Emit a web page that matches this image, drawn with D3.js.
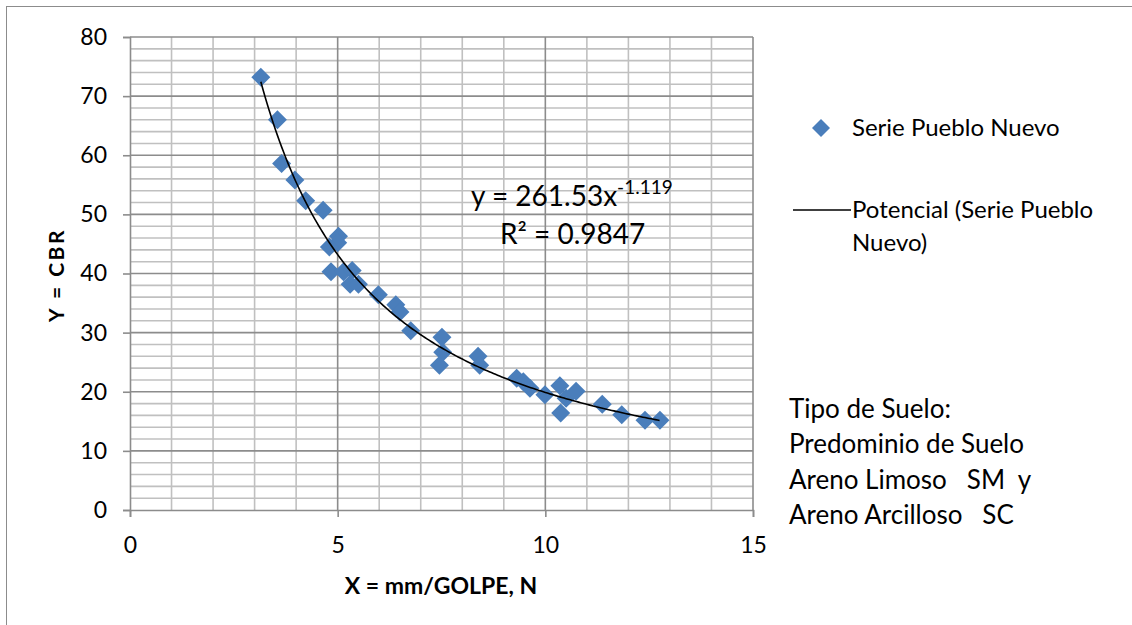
<!DOCTYPE html>
<html>
<head>
<meta charset="utf-8">
<script src="https://cdn.jsdelivr.net/npm/d3@7"></script>
<style>
  body { margin: 0; background: #fff; }
  svg text { font-family: Lato, "Liberation Sans", sans-serif; fill: #000; white-space: pre; }
</style>
</head>
<body>
<div id="chart"></div>
<script>
// data
const xVals = [3.15, 3.55, 3.65, 3.97, 4.23, 4.65, 5.02, 5.0, 4.8, 4.84, 5.14, 5.35, 5.30, 5.50, 5.98,
               6.40, 6.50, 6.76, 7.51, 7.53, 7.45, 8.38, 8.42, 9.31, 9.47, 9.63, 9.99, 10.35, 10.5,
               10.74, 10.37, 11.37, 11.84, 12.40, 12.76];
const yVals = [73.2, 66.0, 58.6, 55.8, 52.3, 50.7, 46.3, 45.2, 44.5, 40.3, 40.3, 40.5, 38.2, 38.2, 36.4,
               34.7, 33.5, 30.3, 29.2, 26.7, 24.5, 26.0, 24.5, 22.3, 21.7, 20.6, 19.5, 21.0, 18.9,
               20.1, 16.4, 17.9, 16.1, 15.2, 15.2];
const xTicks = [0, 5, 10, 15];
const yTicks = [0, 10, 20, 30, 40, 50, 60, 70, 80];
const fitA = 261.53, fitB = -1.119;
const noteLines = ['Tipo de Suelo:', 'Predominio de Suelo', 'Areno Limoso   SM  y', 'Areno Arcilloso   SC'];

const width = 1132, height = 625;
const margin = {t: 37, l: 130};
const plotW = 623, plotH = 473;

const svg = d3.select('#chart').append('svg')
    .attr('width', width).attr('height', height);

// outer frame
svg.append('rect')
    .attr('x', 6.5).attr('y', 6.5).attr('width', 1140).attr('height', 640)
    .attr('fill', 'none').attr('stroke', '#8c8c8c').attr('stroke-width', 1);

const x = d3.scaleLinear().domain([0, 15]).range([0, plotW]);
const y = d3.scaleLinear().domain([0, 80]).range([plotH, 0]);

const g = svg.append('g').attr('transform', `translate(${margin.l},${margin.t})`);

// minor grid
g.append('g').selectAll('line')
    .data(d3.range(1, 16).filter(d => d % 5 !== 0))
    .enter().append('line')
    .attr('x1', d => x(d)).attr('x2', d => x(d))
    .attr('y1', 0).attr('y2', plotH)
    .attr('stroke', '#c0c0c0').attr('stroke-width', 1.6);
g.append('g').selectAll('line')
    .data(d3.range(2, 80, 2).filter(d => d % 10 !== 0))
    .enter().append('line')
    .attr('x1', 0).attr('x2', plotW)
    .attr('y1', d => y(d)).attr('y2', d => y(d))
    .attr('stroke', '#c0c0c0').attr('stroke-width', 1.6);

// major grid
g.append('g').selectAll('line')
    .data(xTicks.slice(1))
    .enter().append('line')
    .attr('x1', d => x(d)).attr('x2', d => x(d))
    .attr('y1', 0).attr('y2', plotH)
    .attr('stroke', '#8c8c8c').attr('stroke-width', 1.6);
g.append('g').selectAll('line')
    .data(yTicks.slice(1))
    .enter().append('line')
    .attr('x1', 0).attr('x2', plotW)
    .attr('y1', d => y(d)).attr('y2', d => y(d))
    .attr('stroke', '#8c8c8c').attr('stroke-width', 1.6);

// axes
const yAxis = g.append('g')
    .call(d3.axisLeft(y).tickValues(yTicks).tickSize(7).tickPadding(16));
const xAxis = g.append('g')
    .attr('transform', `translate(0,${plotH})`)
    .call(d3.axisBottom(x).tickValues(xTicks).tickSize(7).tickPadding(20));
[xAxis, yAxis].forEach(a => {
    a.select('.domain').attr('stroke', '#8c8c8c').attr('stroke-width', 1.6);
    a.selectAll('.tick line').attr('stroke', '#8c8c8c').attr('stroke-width', 1.6);
    a.selectAll('.tick text').attr('font-size', 23).attr('fill', '#000')
        .attr('font-family', 'Lato, sans-serif');
});

// trendline
const curveX = d3.range(d3.min(xVals), d3.max(xVals) + 0.001, 0.05);
const line = d3.line().x(d => x(d)).y(d => y(fitA * Math.pow(d, fitB)));

// markers
const diamond = 'M0,-9.5L9.5,0L0,9.5L-9.5,0Z';
g.append('g').selectAll('path')
    .data(xVals.map((v, i) => [v, yVals[i]]))
    .enter().append('path')
    .attr('d', diamond)
    .attr('transform', d => `translate(${x(d[0])},${y(d[1])})`)
    .attr('fill', '#4a7ebb');

g.append('path')
    .datum(curveX)
    .attr('d', line)
    .attr('fill', 'none').attr('stroke', '#000').attr('stroke-width', 1.6);

// equation
const eq = svg.append('text').attr('x', 471).attr('y', 206).attr('font-size', 28);
eq.append('tspan').text('y = 261.53x');
eq.append('tspan').attr('dy', -12).attr('font-size', 19).text('-1.119');
svg.append('text').attr('x', 500).attr('y', 244).attr('font-size', 28).text('R² = 0.9847');

// axis titles
svg.append('text')
    .attr('transform', 'translate(64,275) rotate(-90)')
    .attr('text-anchor', 'middle').attr('font-weight', 'bold').attr('font-size', 21)
    .attr('letter-spacing', 2.5)
    .text('Y = CBR');
svg.append('text')
    .attr('x', 441).attr('y', 594)
    .attr('text-anchor', 'middle').attr('font-weight', 'bold').attr('font-size', 23)
    .text('X = mm/GOLPE, N');

// legend
svg.append('path').attr('d', 'M0,-9L9,0L0,9L-9,0Z')
    .attr('transform', 'translate(821,128)').attr('fill', '#4a7ebb');
svg.append('text').attr('x', 852).attr('y', 136).attr('font-size', 24).text('Serie Pueblo Nuevo');
svg.append('line').attr('x1', 793).attr('x2', 851).attr('y1', 210).attr('y2', 210)
    .attr('stroke', '#000').attr('stroke-width', 1.6);
svg.append('text').attr('x', 852).attr('y', 218).attr('font-size', 24).text('Potencial (Serie Pueblo');
svg.append('text').attr('x', 852).attr('y', 251).attr('font-size', 24).text('Nuevo)');

// soil note
svg.append('g').selectAll('text')
    .data(noteLines)
    .enter().append('text')
    .attr('x', 789).attr('y', (d, i) => 418 + i * 35.3)
    .attr('font-size', 26)
    .text(d => d);
</script>
</body>
</html>
